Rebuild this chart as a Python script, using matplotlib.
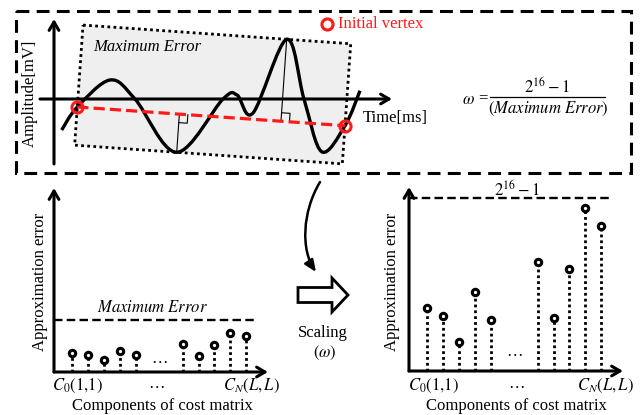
import numpy as np
import matplotlib
matplotlib.use("Agg")
import matplotlib.pyplot as plt
from matplotlib.path import Path
from matplotlib.patches import PathPatch, Polygon, Rectangle, FancyArrowPatch

plt.rcParams["font.family"] = ["Liberation Serif", "DejaVu Serif"]
plt.rcParams["mathtext.fontset"] = "stix"

# ---------------- data ----------------
# signal knots: time [ms] and amplitude [mV]
wave_t = [7.7, 23.3, 56, 81, 122.7, 169, 183, 199, 232.7, 250, 267.7, 291, 306]
wave_amp = [-31, -8, 19, 0, -53.3, 0, 4, -14, 59.7, 0, -52.7, -26.7, 8.3]
vertex_idx = [1, 11]          # initial vertices of the approximation chord

# cost-matrix components (index 5 and 6 replaced by ellipsis)
comp_pos = [0, 1, 2, 3, 4, 7, 8, 9, 10, 11]
max_error = 1.0
approx_err = [0.36, 0.33, 0.22, 0.41, 0.32, 0.54, 0.30, 0.52, 0.74, 0.68]
scale_top = 2 ** 16 - 1
scaled_err = [23800, 20800, 11100, 30000, 19300, 41400, 20200, 38500, 61600, 54900]

tick_labels = [r"$C_0(1{,}1)$", "\u2026", r"$C_N(L,L)$"]
FS = 12

fig = plt.figure(figsize=(6.42, 4.15), dpi=100)

# signal canvas: origin at the axis crossing, 1 unit = 1 pixel
sg = fig.add_axes([0, 0, 1, 1])
sg.set_xlim(-54, 588)
sg.set_ylim(-316, 99)
sg.axis("off")
sg.patch.set_alpha(0)


def smooth_path(xs, ys):
    pts = np.column_stack([xs, ys]).astype(float)
    ext = np.vstack([pts[0], pts, pts[-1]])
    verts = [pts[0]]
    codes = [Path.MOVETO]
    for i in range(1, len(ext) - 2):
        p0, p1, p2, p3 = ext[i - 1], ext[i], ext[i + 1], ext[i + 2]
        verts += [p1 + (p2 - p0) / 6, p2 - (p3 - p1) / 6, p2]
        codes += [Path.CURVE4] * 3
    return Path(verts, codes)


knots = np.column_stack([wave_t, wave_amp]).astype(float)
A = knots[vertex_idx[0]]
B = knots[vertex_idx[1]]
d = (B - A) / np.linalg.norm(B - A)
n = np.array([-d[1], d[0]])
signed = (knots - A) @ n
i_top, i_bot = int(np.argmax(signed)), int(np.argmin(signed))
top, bot = signed[i_top], signed[i_bot]

# band that bounds the signal around the chord (maximum error)
band = [A + top * n, B + top * n, B + bot * n, A + bot * n]
sg.add_patch(Polygon(band, closed=True, fc="#efefef", ec="black", lw=2.0,
                     ls=(0, (1, 1.2)), joinstyle="round", zorder=1))

arrow_kw = dict(arrowstyle="->,head_length=0.6,head_width=0.35", lw=2.2,
                color="black", shrinkA=0, shrinkB=0)
sg.annotate("", xy=(338, 0), xytext=(-14, 0), arrowprops=arrow_kw, zorder=2)
sg.annotate("", xy=(0, 80), xytext=(0, -65), arrowprops=arrow_kw, zorder=2)

sg.add_patch(PathPatch(smooth_path(wave_t, wave_amp), fill=False, ec="black",
                       lw=2.4, zorder=3))

# perpendicular distances to the chord with right-angle marks
for idx in (i_bot, i_top):
    P = knots[idx]
    F = A + ((P - A) @ d) * d
    sg.plot([P[0], F[0]], [P[1], F[1]], color="black", lw=0.8, zorder=3)
    u = (P - F) / np.linalg.norm(P - F)
    s = 8.5
    sq = np.array([F + s * u, F + s * u + s * d, F + s * d])
    sg.plot(sq[:, 0], sq[:, 1], color="black", lw=0.8, zorder=3)

sg.plot([A[0], B[0]], [A[1], B[1]], color="#ff1a1a", lw=2.3,
        ls=(0, (3.5, 1.6)), zorder=4)
sg.plot([A[0], B[0]], [A[1], B[1]], "o", ms=8, mfc="none", mec="#ff1a1a",
        mew=2.2, zorder=5)


def stem_panel(rect_px, values, ymax, limit, limit_end, dots_y):
    l, t, r, b = rect_px
    ax = fig.add_axes([l / 642, (415 - b) / 415, (r - l) / 642, (b - t) / 415])
    ax.set_xlim(-1.17, 12.40)
    ax.set_ylim(0, ymax)
    ax.axis("off")
    ax.patch.set_alpha(0)
    akw = dict(arrowstyle="->,head_length=0.6,head_width=0.35", lw=2.2,
               color="black", shrinkA=0, shrinkB=0)
    ax.annotate("", xy=(1, 0), xytext=(0, 0), xycoords="axes fraction",
                textcoords="axes fraction", arrowprops=akw)
    ax.annotate("", xy=(0, 1), xytext=(0, 0), xycoords="axes fraction",
                textcoords="axes fraction", arrowprops=akw)
    ax.vlines(comp_pos, 0, values, colors="black", lw=2.0,
              linestyles=(0, (1, 1.1)), zorder=2)
    ax.plot(comp_pos, values, "o", ms=4.6, mfc="white", mec="black",
            mew=2.2, zorder=3)
    ax.plot([-1.17, limit_end], [limit, limit], color="black", lw=1.7,
            ls=(0, (3.6, 1.8)), zorder=2)
    ax.text(5.5, dots_y, "\u2026", fontsize=FS, ha="center", va="center",
            transform=ax.get_xaxis_transform())
    return ax


axl = stem_panel((54, 188, 268, 372), approx_err, 184 / 52.4, max_error,
                 11.57, 0.07)
axr = stem_panel((409, 187, 623, 371), scaled_err, 184 * scale_top / 173,
                 scale_top, 11.69, 0.105)

# pixel-space overlay for frames, arrows and labels (y grows downward)
bg = fig.add_axes([0, 0, 1, 1])
bg.set_xlim(0, 642)
bg.set_ylim(415, 0)
bg.axis("off")
bg.patch.set_alpha(0)

# dashed frame around the signal panel
bg.add_patch(Rectangle((16, 11), 615, 162, fill=False, ec="black", lw=2.2,
                       ls=(0, (4.2, 2.4))))

bg.text(93, 47, "Maximum Error", style="italic", fontsize=FS, va="center",
        ha="left")
bg.text(30, 93, "Amplitude[mV]", rotation=90, fontsize=FS, va="center",
        ha="center")
bg.text(363, 118, "Time[ms]", fontsize=FS, va="center", ha="left")
bg.plot([327], [24], "o", ms=8, mfc="none", mec="#ff1a1a", mew=2.2)
bg.text(338, 24, "Initial vertex", color="#ff1a1a", fontsize=FS,
        va="center", ha="left")

# scaling factor
bg.text(462, 100, r"$\omega$", fontsize=FS, va="center", ha="left")
bg.text(487.5, 98.5, "=", fontsize=FS, va="center", ha="right")
bg.text(547, 87, r"$2^{16} - 1$", fontsize=FS, va="center", ha="center")
bg.plot([490, 605], [97, 97], color="black", lw=0.9)
bg.text(548, 108.5, r"$(Maximum\ Error)$", fontsize=FS, va="center",
        ha="center")

# curved arrow out of the signal panel
curve = Path([(320, 182), (302, 212), (301, 250), (316, 272)],
             [Path.MOVETO, Path.CURVE4, Path.CURVE4, Path.CURVE4])
bg.add_patch(FancyArrowPatch(path=curve, arrowstyle="-|>,head_length=7,head_width=3",
                             color="black", lw=1.8))

# hollow block arrow
bg.add_patch(Polygon([(298, 287.5), (332, 287.5), (332, 278), (348, 295),
                      (332, 312), (332, 302.5), (298, 302.5)], closed=True,
                     fc="white", ec="black", lw=2.0, joinstyle="miter"))
bg.text(323, 333, "Scaling", fontsize=FS, va="center", ha="center")
bg.text(325, 353, r"$(\omega)$", fontsize=FS, va="center", ha="center")

bg.text(152.5, 308, r"$Maximum\ Error$", fontsize=FS, ha="center",
        va="center")
bg.text(517, 190, r"$2^{16} - 1$", fontsize=FS, ha="center", va="center")

for (cx0, cxm, cx1), xl_c, yl_x in (((77, 157, 251), 162, 40),
                                    ((433, 517, 605), 516, 392)):
    bg.text(cx0, 386, tick_labels[0], fontsize=FS, ha="center", va="center")
    bg.text(cxm, 384, tick_labels[1], fontsize=FS, ha="center", va="center")
    bg.text(cx1, 386, tick_labels[2], fontsize=FS, ha="center", va="center")
    bg.text(xl_c, 406, "Components of cost matrix", fontsize=FS, ha="center",
            va="center")
    bg.text(yl_x, 282, "Approximation error", fontsize=FS, rotation=90,
            ha="center", va="center")

fig.savefig("out.png", dpi=100)
